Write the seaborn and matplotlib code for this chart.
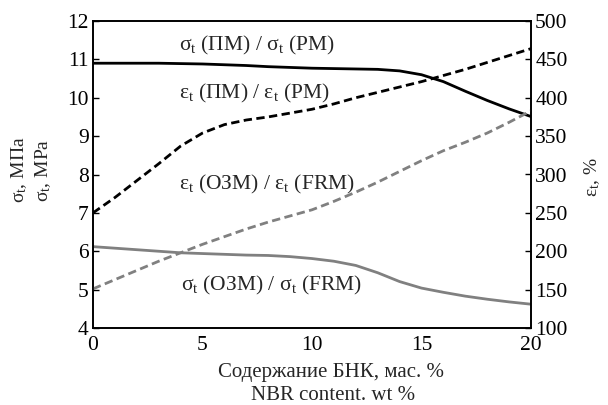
import matplotlib
matplotlib.use("Agg")
import matplotlib.pyplot as plt
import seaborn as sns
import pandas as pd

sns.set_theme(style="white")
plt.rcParams['font.family'] = ['Liberation Serif', 'DejaVu Serif']
plt.rcParams['mathtext.fontset'] = 'custom'
plt.rcParams['mathtext.rm'] = 'Liberation Serif'
plt.rcParams['mathtext.it'] = 'Liberation Serif'

# NBR content, wt %
x = list(range(0, 21))
# left axis (MPa)
sigma_pm = [10.90, 10.90, 10.90, 10.90, 10.89, 10.88, 10.86, 10.84, 10.81, 10.79, 10.77,
            10.76, 10.75, 10.74, 10.70, 10.60, 10.42, 10.17, 9.93, 9.71, 9.51]
sigma_ozm = [6.12, 6.08, 6.04, 6.00, 5.96, 5.94, 5.92, 5.90, 5.89, 5.86, 5.81,
             5.74, 5.63, 5.44, 5.21, 5.04, 4.93, 4.83, 4.75, 4.68, 4.62]
# right axis (%)
eps_pm = [250, 270, 292, 314, 337, 354, 365, 371, 375, 380, 385,
          392, 400, 407, 414, 421, 429, 437, 446, 455, 464]
eps_ozm = [151, 163, 175, 187, 198, 209, 219, 229, 238, 246, 254,
           265, 277, 290, 304, 318, 331, 342, 354, 368, 383]

x_ticks = [0, 5, 10, 15, 20]
left_ticks = [4, 5, 6, 7, 8, 9, 10, 11, 12]
right_ticks = [100, 150, 200, 250, 300, 350, 400, 450, 500]

labels = {
    'sigma_pm': r"$\mathregular{\sigma_t}$ (ПМ) / $\mathregular{\sigma_t}$ (РМ)",
    'eps_pm': r"$\mathregular{\varepsilon_t}$ (ПМ) / $\mathregular{\varepsilon_t}$ (РМ)",
    'eps_ozm': r"$\mathregular{\varepsilon_t}$ (ОЗМ) / $\mathregular{\varepsilon_t}$ (FRM)",
    'sigma_ozm': r"$\mathregular{\sigma_t}$ (ОЗМ) / $\mathregular{\sigma_t}$ (FRM)",
}

W, H = 608, 405
fs_tick = 15.5
fs_text = 15.5
fs_lab = 15
GRAY = '#808080'

fig, ax = plt.subplots(figsize=(6.08, 4.05), dpi=100)
fig.subplots_adjust(left=93 / W, right=531 / W, top=1 - 21 / H, bottom=1 - 328 / H)

df = pd.DataFrame({'x': x, 'sigma_pm': sigma_pm, 'sigma_ozm': sigma_ozm,
                   'eps_pm': eps_pm, 'eps_ozm': eps_ozm})

sns.lineplot(data=df, x='x', y='sigma_pm', ax=ax, color='black', lw=2)
sns.lineplot(data=df, x='x', y='sigma_ozm', ax=ax, color=GRAY, lw=2)
ax.set_xlim(0, 20)
ax.set_ylim(4, 12)
ax.set_xticks(x_ticks)
ax.set_yticks(left_ticks)
ax.set_xlabel("")
ax.set_ylabel("")

ax2 = ax.twinx()
sns.lineplot(data=df, x='x', y='eps_pm', ax=ax2, color='black', lw=2, linestyle=(0, (3, 1.6)))
sns.lineplot(data=df, x='x', y='eps_ozm', ax=ax2, color=GRAY, lw=2, linestyle=(0, (3, 1.6)))
ax2.set_ylim(100, 500)
ax2.set_yticks(right_ticks)
ax2.set_xlim(0, 20)
ax2.set_ylabel("")

for a in (ax, ax2):
    for s in a.spines.values():
        s.set_color('black')
        s.set_linewidth(1.2)
    a.tick_params(direction='in', length=4, width=1, labelsize=fs_tick, colors='black', pad=3)
ax.tick_params(axis='x', pad=6)

# axis titles
fig.text(331 / W, 1 - 373 / H, "Содержание БНК, мас. %", fontsize=fs_lab, ha='center', va='center')
fig.text(333 / W, 1 - 396 / H, "NBR content. wt %", fontsize=fs_lab, ha='center', va='center')
fig.text(19 / W, 1 - 170 / H, r"$\mathregular{\sigma_t}$, МПа", fontsize=14, rotation=90, ha='center', va='center')
fig.text(43 / W, 1 - 170 / H, r"$\mathregular{\sigma_t}$, MPa", fontsize=14, rotation=90, ha='center', va='center')
fig.text(592 / W, 1 - 177 / H, r"$\mathregular{\varepsilon_t}$, %", fontsize=14, rotation=90, ha='center', va='center')

# curve annotations
ax.text(3.94, 11.36, labels['sigma_pm'], fontsize=fs_text, va='center')
ax.text(3.94, 10.12, labels['eps_pm'], fontsize=fs_text, va='center')
ax.text(3.94, 7.74, labels['eps_ozm'], fontsize=fs_text, va='center')
ax.text(4.0, 5.12, labels['sigma_ozm'], fontsize=fs_text, va='center')

fig.savefig("out.png", dpi=100)
